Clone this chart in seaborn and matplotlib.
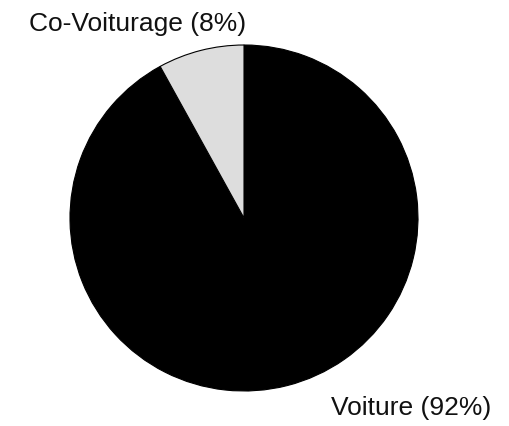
"""
Pie chart: Voiture vs Co-Voiturage
"""

from matplotlib import pyplot as plt
import seaborn as sns

labels = ["Voiture (92%)", "Co-Voiturage (8%)"]
shares = [92, 8]
colors = ["#000000", "#dddddd"]

sns.set_theme(style="white")
plt.rcParams["font.family"] = ["Liberation Sans", "DejaVu Sans"]

fig = plt.figure(figsize=(5.1, 4.26), dpi=100)
ax = fig.add_axes([70 / 510, 35 / 426, 348 / 510, 346 / 426])
ax.pie(
    shares,
    colors=colors,
    startangle=90,
    counterclock=False,
    radius=1,
    wedgeprops=dict(edgecolor="#000000", linewidth=0.8),
)
ax.set_xlim(-1, 1)
ax.set_ylim(-1, 1)
ax.set_aspect("auto")
ax.axis("off")

fig.text(138 / 510, 1 - 24 / 426, labels[1], ha="center", va="center", fontsize=19, color="#111111")
fig.text(411 / 510, 1 - 408 / 426, labels[0], ha="center", va="center", fontsize=19, color="#111111")

fig.savefig("out.png", dpi=100, facecolor="white")
